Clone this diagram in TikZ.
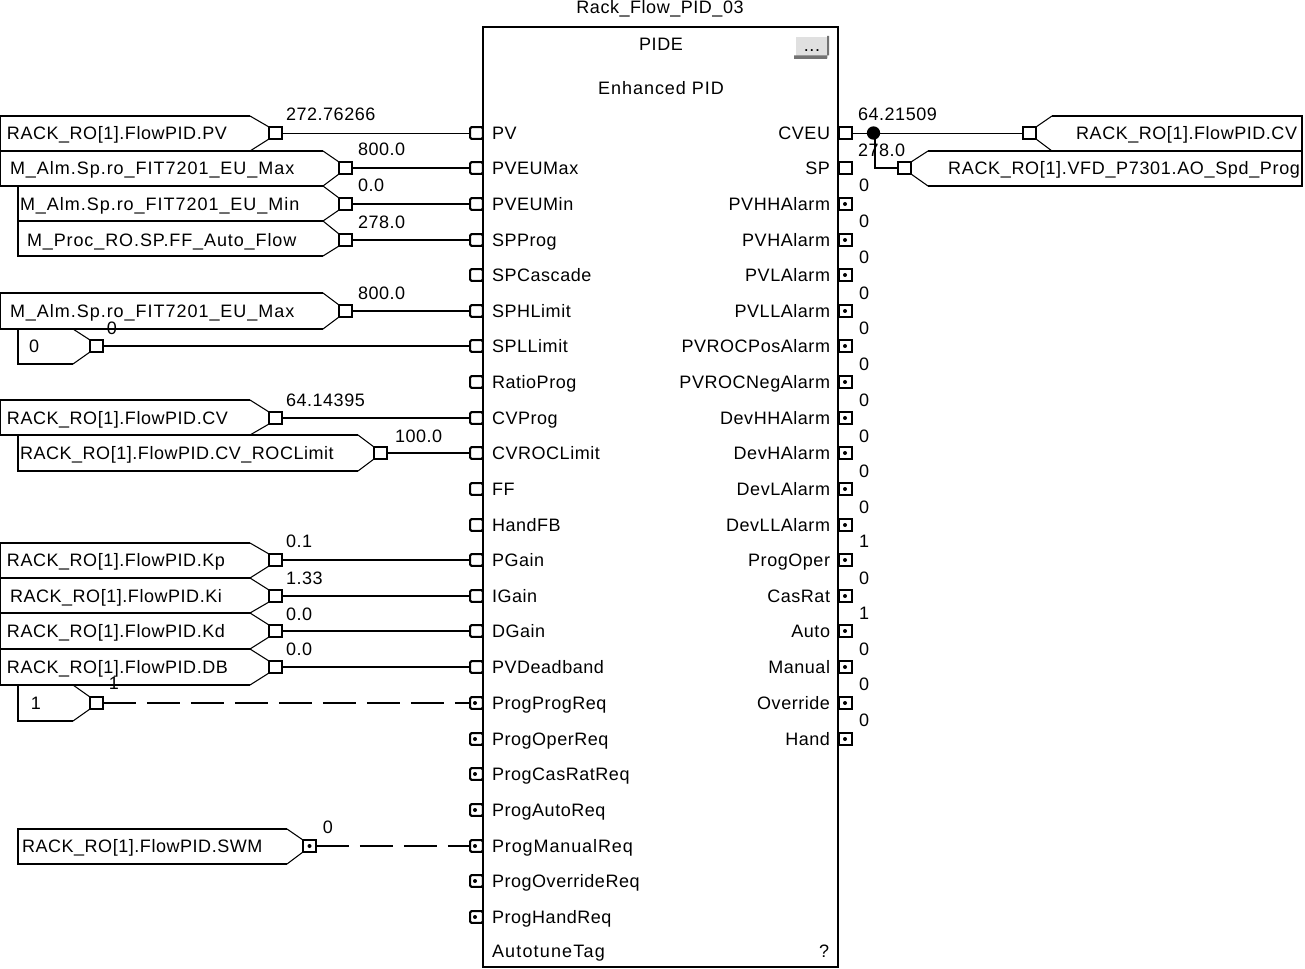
\documentclass[tikz,border=0pt]{standalone}
\usepackage{fontspec}
\setmainfont[LetterSpace=3]{Liberation Sans}
\newcommand{\wider}[2]{{\addfontfeature{LetterSpace=#1}#2}}
\tikzset{
  lab/.style={inner sep=0pt,outer sep=0pt,font=\fontsize{13.5}{15}\selectfont,text height=9.7pt,text depth=0pt},
  pinbox/.style={draw=black,line width=1.5pt,fill=white,rectangle,minimum width=9.5pt,minimum height=8.8pt,inner sep=0pt,outer sep=0pt},
  dotmark/.style={circle,fill=black,inner sep=0pt,minimum size=3pt},
  wire/.style={line width=1.5pt,black},
  thinwire/.style={line width=0.6pt,black},
  dashwire/.style={line width=1.5pt,black,dash pattern=on 24.5pt off 8.5pt},
  tagline/.style={line width=1.5pt,black,line join=miter},
  tagdiag/.style={line width=0.8pt,black},
}
% name, left x, shoulder x, pin left x, y, top, bottom, text x, text
\newcommand{\intag}[9]{%
  \fill[white] (#4,#5-6) -- (#3,#6) -- (#2,#6) -- (#2,#7) -- (#3,#7) -- (#4,#5+6) -- cycle;
  \draw[tagline] (#3,#6) -- (#2,#6) -- (#2,#7) -- (#3,#7);
  \draw[tagdiag] (#4,#5-6) -- (#3,#6) (#3,#7) -- (#4,#5+6);
  \node[pinbox] (#1) at (#4+6.5,#5) {};
  \node[lab,anchor=west] (#1t) at (#8,#5) {#9};
}
% name, right x, shoulder x, pin right x, y, top, bottom, text x (right end), text
\newcommand{\outtag}[9]{%
  \fill[white] (#4,#5-6) -- (#3,#6) -- (#2,#6) -- (#2,#7) -- (#3,#7) -- (#4,#5+6) -- cycle;
  \draw[tagline] (#3,#6) -- (#2,#6) -- (#2,#7) -- (#3,#7);
  \draw[tagdiag] (#4,#5-6) -- (#3,#6) (#3,#7) -- (#4,#5+6);
  \node[pinbox] (#1) at (#4-6.5,#5) {};
  \node[lab,anchor=east] (#1t) at (#8,#5) {#9};
}
\begin{document}
\begin{tikzpicture}[x=0.75pt,y=-0.75pt]
\useasboundingbox (0,0) rectangle (1305,969);
% block
\draw[line width=1.5pt] (483,27) rectangle (838,967);
\node[lab,anchor=center] (title) at (660,7) {Rack\_Flow\_PID\_03};
\node[lab,anchor=center] (pide) at (661,44) {PIDE};
\node[lab,anchor=center] (enh) at (661,88) {\wider{5.3}{Enhanced PID}};
\fill[black!12] (796,37) rectangle (828,58);
\fill[black!55] (794,55.5) -- (829,55.5) -- (829,36) -- (827,36) -- (827,59) -- (794,59) -- cycle;
\node[lab,anchor=center] (btn) at (812,45) {...};
\node[lab,anchor=center] (help) at (824,951) {?};
\node[lab,anchor=west] (atune) at (492,951) {\wider{6.5}{AutotuneTag}};
% input pins
\foreach \n/\y in {PV/133,PVEUMax/168,PVEUMin/204,SPProg/240,SPCascade/275,SPHLimit/311,SPLLimit/346,RatioProg/382,CVProg/418,CVROCLimit/453,FF/489,HandFB/525,PGain/560,IGain/596,DGain/631,PVDeadband/667}{
  \node[pinbox,rounded corners=1pt] (in\n) at (476.5,\y) {};
  \node[lab,anchor=west] (lb\n) at (492,\y) {\n};
}
\foreach \n/\y in {ProgProgReq/703,ProgOperReq/739,ProgCasRatReq/774,ProgAutoReq/810,ProgManualReq/846,ProgOverrideReq/881,ProgHandReq/917}{
  \node[pinbox,rounded corners=1pt] (in\n) at (476.5,\y) {};
  \node[dotmark] (dt\n) at (475,\y) {};
}
\foreach \n/\y in {ProgProgReq/703,ProgOperReq/739,ProgCasRatReq/774,ProgAutoReq/810,ProgOverrideReq/881,ProgHandReq/917}{
  \node[lab,anchor=west] (lb\n) at (492,\y) {\n};
}
\node[lab,anchor=west] (lbProgManualReq) at (492,846) {\wider{5}{ProgManualReq}};
% output pins
\foreach \n/\y in {CVEU/133,SP/168}{
  \node[pinbox] (out\n) at (845.5,\y) {};
  \node[lab,anchor=east] (lb\n) at (830,\y) {\n};
}
\foreach \n/\y/\v/\vy in {PVHHAlarm/204/0/185,PVHAlarm/240/0/221,PVLAlarm/275/0/257,PVLLAlarm/311/0/293,PVROCPosAlarm/346/0/328,PVROCNegAlarm/382/0/364,DevHHAlarm/418/0/400,DevHAlarm/453/0/436,DevLAlarm/489/0/471,DevLLAlarm/525/0/507,ProgOper/560/1/541,CasRat/596/0/578,Auto/631/1/613,Manual/667/0/649,Override/703/0/684,Hand/739/0/720}{
  \node[pinbox] (out\n) at (845.5,\y) {};
  \node[dotmark] (dt\n) at (845,\y) {};
  \node[lab,anchor=east] (lb\n) at (830,\y) {\n};
  \node[lab,anchor=center] (val\n) at (864,\vy) {\v};
}
% input tags
\intag{tA}{0}{250}{269}{133}{116}{151}{7}{RACK\_RO[1].FlowPID.PV}
\intag{tB}{0}{323}{339}{168}{151}{186}{10}{\wider{5.4}{M\_Alm.Sp.ro\_FIT7201\_EU\_Max}}
\intag{tC}{18}{323}{339}{204}{186}{221}{20}{\wider{5.4}{M\_Alm.Sp.ro\_FIT7201\_EU\_Min}}
\intag{tD}{18}{323}{339}{240}{221}{256}{27}{\wider{5}{M\_Proc\_RO.SP.FF\_Auto\_Flow}}
\intag{tF}{18}{73}{90}{346}{329}{364}{29}{0}
\intag{tE}{0}{323}{339}{311}{293}{329}{10}{\wider{5.4}{M\_Alm.Sp.ro\_FIT7201\_EU\_Max}}
\intag{tH}{18}{358}{374}{453}{435}{471}{20}{RACK\_RO[1].FlowPID.CV\_ROCLimit}
\intag{tG}{0}{250}{269}{418}{400}{435}{7}{RACK\_RO[1].FlowPID.CV}
\intag{tI}{0}{250}{269}{560}{543}{578}{7}{RACK\_RO[1].FlowPID.Kp}
\intag{tJ}{0}{250}{269}{596}{578}{613}{10}{RACK\_RO[1].FlowPID.Ki}
\intag{tK}{0}{250}{269}{631}{613}{649}{7}{RACK\_RO[1].FlowPID.Kd}
\intag{tM}{18}{73}{90}{703}{685}{721}{31}{1}
\intag{tL}{0}{250}{269}{667}{649}{685}{7}{RACK\_RO[1].FlowPID.DB}
\intag{tN}{18}{287}{303}{846}{829}{864}{22}{RACK\_RO[1].FlowPID.SWM}
\node[dotmark] (dtN) at (tN) {};
% output tags
\outtag{oA}{1302}{1052}{1036}{133}{116}{151}{1297}{RACK\_RO[1].FlowPID.CV}
\outtag{oB}{1302}{928}{911}{168}{151}{186}{1300}{\wider{3.7}{RACK\_RO[1].VFD\_P7301.AO\_Spd\_Prog}}
% connectors
\draw[thinwire] (tA) -- (inPV);
\foreach \a/\b in {tB/inPVEUMax,tC/inPVEUMin,tD/inSPProg,tE/inSPHLimit,tF/inSPLLimit,tG/inCVProg,tH/inCVROCLimit,tI/inPGain,tJ/inIGain,tK/inDGain,tL/inPVDeadband}
  \draw[wire] (\a.east) -- (\b.west);
\draw[dashwire] (tM.east) -- (inProgProgReq.west);
\draw[dashwire] (tN.east) -- (inProgManualReq.west);
\node[circle,fill=black,inner sep=0pt,minimum size=10pt] (jn) at (873.5,133) {};
\coordinate (jb) at (875,133);
\draw[thinwire] (outCVEU.east) -- (jn) -- (oA.west);
\draw[wire] (jb) -- (oB.west -| jb) -- (oB.west);
% values
\foreach \nm/\x/\y/\v in {a/286/114/272.76266,b/358/149/800.0,c/358/185/0.0,d/358/222/278.0,e/358/293/800.0,g/286/400/64.14395,h/395/436/100.0,i/286/541/0.1,j/286/578/1.33,k/286/614/0.0,l/286/649/0.0,m/858/114/64.21509,n/858/150/278.0}
  \node[lab,anchor=west] (v\nm) at (\x,\y) {\v};
\node[lab,anchor=center] (vf) at (112,328) {0};
\node[lab,anchor=center] (vo) at (114,683) {1};
\node[lab,anchor=center] (vp) at (328,827) {0};
\end{tikzpicture}
\end{document}
